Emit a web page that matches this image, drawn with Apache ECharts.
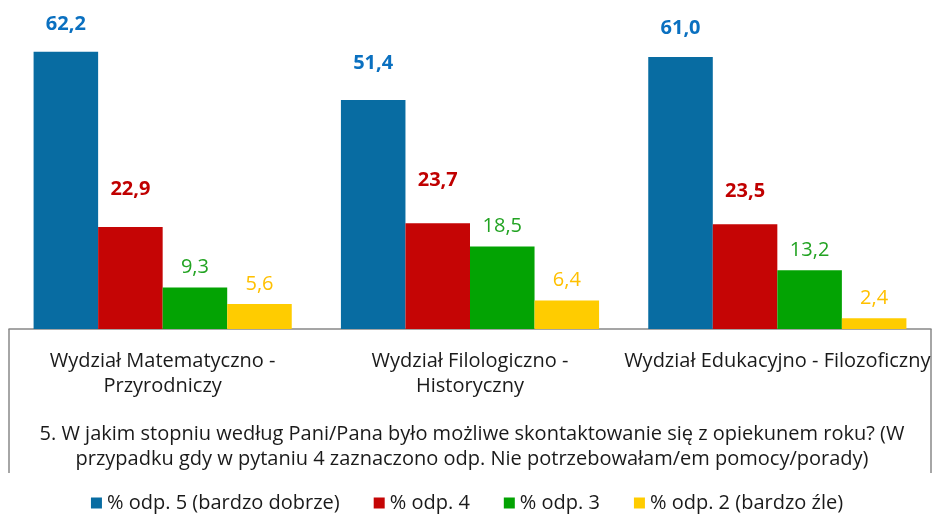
<!DOCTYPE html>
<html><head><meta charset="utf-8">
<script src="https://cdn.jsdelivr.net/npm/echarts@6/dist/echarts.min.js"></script>
<style>html,body{margin:0;padding:0;background:#fff}#c{width:934px;height:516px}</style>
</head><body><div id="c"></div>
<script>
const categories = ['Wydział Matematyczno -\nPrzyrodniczy', 'Wydział Filologiczno -\nHistoryczny', 'Wydział Edukacyjno - Filozoficzny'];
const seriesNames = ['% odp. 5 (bardzo dobrze)', '% odp. 4', '% odp. 3', '% odp. 2 (bardzo źle)'];
const odp5 = [62.2, 51.4, 61.0];
const odp4 = [22.9, 23.7, 23.5];
const odp3 = [9.3, 18.5, 13.2];
const odp2 = [5.6, 6.4, 2.4];
const questionText = '5. W jakim stopniu według Pani/Pana było możliwe skontaktowanie się z opiekunem roku? (W\nprzypadku gdy w pytaniu 4 zaznaczono odp. Nie potrzebowałam/em pomocy/porady)';

const values = [odp5, odp4, odp3, odp2];
const barColors = ['#086CA2', '#C50505', '#03A303', '#FFCC00'];
const labelColors = ['#0A70C0', '#C00000', '#22A322', '#FFC000'];
const labelWeights = ['bold', 'bold', 'normal', 'normal'];
// label gap above each bar (layout only)
const labelDist = [[17, 27, 19], [28, 33, 23], [10, 10, 10], [10, 10, 10]];
const FONT = 'Open Sans';
const FS = 20;

const chart = echarts.init(document.getElementById('c'), null, {renderer: 'canvas'});
const fmt = p => p.value.toFixed(1).replace('.', ',');
chart.setOption({
  animation: false,
  textStyle: {fontFamily: FONT},
  grid: {left: 9, right: 3, top: 17, bottom: 187, containLabel: false},
  title: {
    text: questionText, left: 467, top: 417, textAlign: 'center',
    textStyle: {fontFamily: FONT, fontSize: FS, fontWeight: 'normal', color: '#1a1a1a', lineHeight: 25, align: 'center'}
  },
  legend: {
    bottom: -2, left: 'center', icon: 'rect', itemWidth: 11, itemHeight: 11, itemGap: 34,
    textStyle: {fontFamily: FONT, fontSize: FS, color: '#1a1a1a'},
    data: seriesNames
  },
  xAxis: {
    type: 'category', data: categories,
    axisLine: {lineStyle: {color: '#888888', width: 1.5}},
    axisTick: {show: false},
    axisLabel: {fontFamily: FONT, fontSize: FS, color: '#1a1a1a', lineHeight: 25, margin: 20, interval: 0}
  },
  yAxis: {type: 'value', min: 0, max: 70, show: false, splitLine: {show: false}},
  graphic: [
    {type: 'line', shape: {x1: 9, y1: 329, x2: 9, y2: 473}, style: {stroke: '#888888', lineWidth: 1.5}},
    {type: 'line', shape: {x1: 931, y1: 329, x2: 931, y2: 473}, style: {stroke: '#888888', lineWidth: 1.5}}
  ],
  series: values.map((v, i) => ({
    name: seriesNames[i], type: 'bar',
    data: v.map((val, j) => ({value: val, label: {distance: labelDist[i][j]}})),
    barGap: '0%', barCategoryGap: '16%',
    itemStyle: {color: barColors[i]},
    label: {
      show: true, position: 'top', formatter: fmt,
      fontFamily: FONT, fontSize: FS, fontWeight: labelWeights[i], color: labelColors[i]
    }
  }))
});
</script></body></html>
